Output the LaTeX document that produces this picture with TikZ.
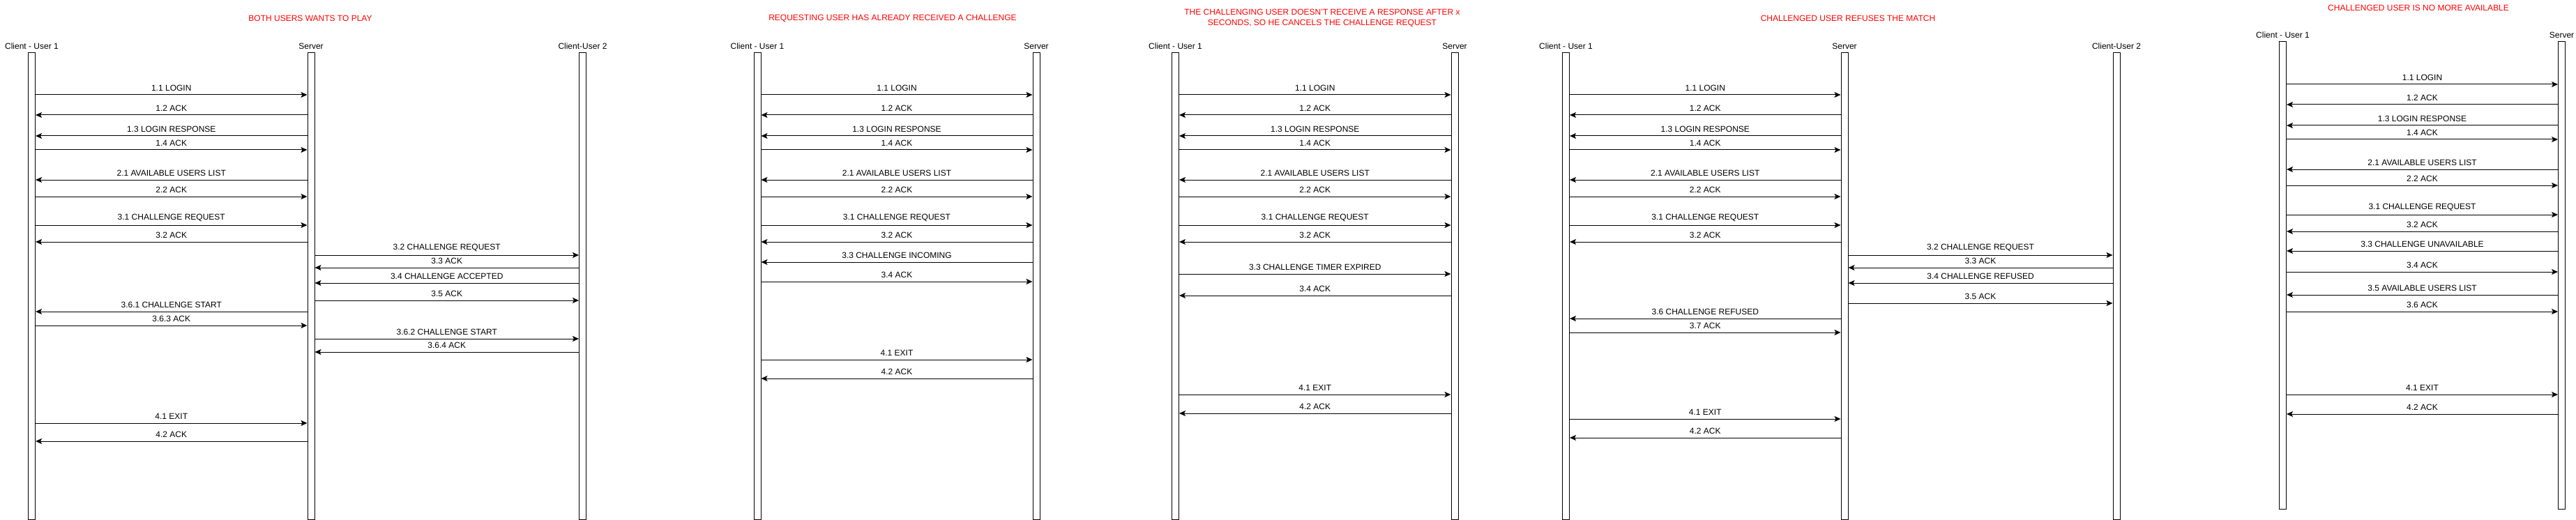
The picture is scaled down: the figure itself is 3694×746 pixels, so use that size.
\documentclass[tikz,border=0pt]{standalone}
\usepackage{fontspec}
\setmainfont{Liberation Sans}
\usetikzlibrary{positioning,arrows.meta}
\tikzset{
  life/.style={draw, fill=white, line width=1pt, minimum width=10pt, minimum height=669pt, inner sep=0pt},
  head/.style={inner sep=0pt, font=\fontsize{12}{15}\selectfont},
  msg/.style={line width=1pt, -{Stealth[length=9pt,width=8pt,inset=2pt]}},
  lbl/.style={midway, above=4pt, inner sep=1pt, font=\fontsize{12}{15}\selectfont},
  title/.style={text=red, align=center, inner sep=0pt, font=\fontsize{12}{15}\selectfont}
}

\begin{document}
\begin{tikzpicture}[x=1pt, y=-1pt]
\useasboundingbox (0,0) rectangle (3694,746);

% Both users want to play
    \node[title] (t1) at (445,26) {BOTH USERS WANTS TO PLAY};
    \node[life] (a1) at (45.5,410.5) {};
    \node[life] (a2) at (446,410.5) {};
    \node[life] (a3) at (835.5,410.5) {};
    \node[head, above=5pt of a1] (ha1) {Client - User 1};
    \node[head, above=5pt of a2] (ha2) {Server};
    \node[head, above=5pt of a3] (ha3) {Client-User 2};
    \draw[msg] (a1.east |- 0,136) -- (a2.west |- 0,136) node[lbl] {1.1 LOGIN};
    \draw[msg] (a2.west |- 0,165) -- (a1.east |- 0,165) node[lbl] {1.2 ACK};
    \draw[msg] (a2.west |- 0,195) -- (a1.east |- 0,195) node[lbl] {1.3 LOGIN RESPONSE};
    \draw[msg] (a1.east |- 0,215) -- (a2.west |- 0,215) node[lbl] {1.4 ACK};
    \draw[msg] (a2.west |- 0,258) -- (a1.east |- 0,258) node[lbl] {2.1 AVAILABLE USERS LIST};
    \draw[msg] (a1.east |- 0,282) -- (a2.west |- 0,282) node[lbl] {2.2 ACK};
    \draw[msg] (a1.east |- 0,323) -- (a2.west |- 0,323) node[lbl] {3.1 CHALLENGE REQUEST};
    \draw[msg] (a2.west |- 0,347) -- (a1.east |- 0,347) node[lbl] {3.2 ACK};
    \draw[msg] (a2.east |- 0,366) -- (a3.west |- 0,366) node[lbl] {3.2 CHALLENGE REQUEST};
    \draw[msg] (a3.west |- 0,384) -- (a2.east |- 0,384) node[lbl] {3.3 ACK};
    \draw[msg] (a3.west |- 0,406) -- (a2.east |- 0,406) node[lbl] {3.4 CHALLENGE ACCEPTED};
    \draw[msg] (a2.east |- 0,431) -- (a3.west |- 0,431) node[lbl] {3.5 ACK};
    \draw[msg] (a2.west |- 0,447) -- (a1.east |- 0,447) node[lbl] {3.6.1 CHALLENGE START};
    \draw[msg] (a1.east |- 0,467) -- (a2.west |- 0,467) node[lbl] {3.6.3 ACK};
    \draw[msg] (a2.east |- 0,486) -- (a3.west |- 0,486) node[lbl] {3.6.2 CHALLENGE START};
    \draw[msg] (a3.west |- 0,505) -- (a2.east |- 0,505) node[lbl] {3.6.4 ACK};
    \draw[msg] (a1.east |- 0,607) -- (a2.west |- 0,607) node[lbl] {4.1 EXIT};
    \draw[msg] (a2.west |- 0,633) -- (a1.east |- 0,633) node[lbl] {4.2 ACK};

% Requesting user has already received a challenge
    \node[title] (t2) at (1280,26) {REQUESTING USER HAS ALREADY RECEIVED A CHALLENGE};
    \node[life] (b1) at (1086,410.5) {};
    \node[life] (b2) at (1486,410.5) {};
    \node[head, above=5pt of b1] (hb1) {Client - User 1};
    \node[head, above=5pt of b2] (hb2) {Server};
    \draw[msg] (b1.east |- 0,136) -- (b2.west |- 0,136) node[lbl] {1.1 LOGIN};
    \draw[msg] (b2.west |- 0,165) -- (b1.east |- 0,165) node[lbl] {1.2 ACK};
    \draw[msg] (b2.west |- 0,195) -- (b1.east |- 0,195) node[lbl] {1.3 LOGIN RESPONSE};
    \draw[msg] (b1.east |- 0,215) -- (b2.west |- 0,215) node[lbl] {1.4 ACK};
    \draw[msg] (b2.west |- 0,258) -- (b1.east |- 0,258) node[lbl] {2.1 AVAILABLE USERS LIST};
    \draw[msg] (b1.east |- 0,282) -- (b2.west |- 0,282) node[lbl] {2.2 ACK};
    \draw[msg] (b1.east |- 0,323) -- (b2.west |- 0,323) node[lbl] {3.1 CHALLENGE REQUEST};
    \draw[msg] (b2.west |- 0,347) -- (b1.east |- 0,347) node[lbl] {3.2 ACK};
    \draw[msg] (b2.west |- 0,376) -- (b1.east |- 0,376) node[lbl] {3.3 CHALLENGE INCOMING};
    \draw[msg] (b1.east |- 0,404) -- (b2.west |- 0,404) node[lbl] {3.4 ACK};
    \draw[msg] (b1.east |- 0,516) -- (b2.west |- 0,516) node[lbl] {4.1 EXIT};
    \draw[msg] (b2.west |- 0,543) -- (b1.east |- 0,543) node[lbl] {4.2 ACK};

% Challenge timer expired
    \node[title] (t3) at (1896,25.5) {THE CHALLENGING USER DOESN'T RECEIVE A RESPONSE AFTER x\\SECONDS, SO HE CANCELS THE CHALLENGE REQUEST};
    \node[life] (c1) at (1685.5,410.5) {};
    \node[life] (c2) at (2086,410.5) {};
    \node[head, above=5pt of c1] (hc1) {Client - User 1};
    \node[head, above=5pt of c2] (hc2) {Server};
    \draw[msg] (c1.east |- 0,136) -- (c2.west |- 0,136) node[lbl] {1.1 LOGIN};
    \draw[msg] (c2.west |- 0,165) -- (c1.east |- 0,165) node[lbl] {1.2 ACK};
    \draw[msg] (c2.west |- 0,195) -- (c1.east |- 0,195) node[lbl] {1.3 LOGIN RESPONSE};
    \draw[msg] (c1.east |- 0,215) -- (c2.west |- 0,215) node[lbl] {1.4 ACK};
    \draw[msg] (c2.west |- 0,258) -- (c1.east |- 0,258) node[lbl] {2.1 AVAILABLE USERS LIST};
    \draw[msg] (c1.east |- 0,282) -- (c2.west |- 0,282) node[lbl] {2.2 ACK};
    \draw[msg] (c1.east |- 0,323) -- (c2.west |- 0,323) node[lbl] {3.1 CHALLENGE REQUEST};
    \draw[msg] (c2.west |- 0,347) -- (c1.east |- 0,347) node[lbl] {3.2 ACK};
    \draw[msg] (c1.east |- 0,393) -- (c2.west |- 0,393) node[lbl] {3.3 CHALLENGE TIMER EXPIRED};
    \draw[msg] (c2.west |- 0,424) -- (c1.east |- 0,424) node[lbl] {3.4 ACK};
    \draw[msg] (c1.east |- 0,566) -- (c2.west |- 0,566) node[lbl] {4.1 EXIT};
    \draw[msg] (c2.west |- 0,593) -- (c1.east |- 0,593) node[lbl] {4.2 ACK};

% Challenged user refuses the match
    \node[title] (t4) at (2650,26) {CHALLENGED USER REFUSES THE MATCH};
    \node[life] (d1) at (2245.5,410.5) {};
    \node[life] (d2) at (2645,410.5) {};
    \node[life] (d3) at (3035,410.5) {};
    \node[head, above=5pt of d1] (hd1) {Client - User 1};
    \node[head, above=5pt of d2] (hd2) {Server};
    \node[head, above=5pt of d3] (hd3) {Client-User 2};
    \draw[msg] (d1.east |- 0,136) -- (d2.west |- 0,136) node[lbl] {1.1 LOGIN};
    \draw[msg] (d2.west |- 0,165) -- (d1.east |- 0,165) node[lbl] {1.2 ACK};
    \draw[msg] (d2.west |- 0,195) -- (d1.east |- 0,195) node[lbl] {1.3 LOGIN RESPONSE};
    \draw[msg] (d1.east |- 0,215) -- (d2.west |- 0,215) node[lbl] {1.4 ACK};
    \draw[msg] (d2.west |- 0,258) -- (d1.east |- 0,258) node[lbl] {2.1 AVAILABLE USERS LIST};
    \draw[msg] (d1.east |- 0,282) -- (d2.west |- 0,282) node[lbl] {2.2 ACK};
    \draw[msg] (d1.east |- 0,323) -- (d2.west |- 0,323) node[lbl] {3.1 CHALLENGE REQUEST};
    \draw[msg] (d2.west |- 0,347) -- (d1.east |- 0,347) node[lbl] {3.2 ACK};
    \draw[msg] (d2.east |- 0,366) -- (d3.west |- 0,366) node[lbl] {3.2 CHALLENGE REQUEST};
    \draw[msg] (d3.west |- 0,384) -- (d2.east |- 0,384) node[lbl] {3.3 ACK};
    \draw[msg] (d3.west |- 0,406) -- (d2.east |- 0,406) node[lbl] {3.4 CHALLENGE REFUSED};
    \draw[msg] (d2.east |- 0,435) -- (d3.west |- 0,435) node[lbl] {3.5 ACK};
    \draw[msg] (d2.west |- 0,457) -- (d1.east |- 0,457) node[lbl] {3.6 CHALLENGE REFUSED};
    \draw[msg] (d1.east |- 0,477) -- (d2.west |- 0,477) node[lbl] {3.7 ACK};
    \draw[msg] (d1.east |- 0,601) -- (d2.west |- 0,601) node[lbl] {4.1 EXIT};
    \draw[msg] (d2.west |- 0,628) -- (d1.east |- 0,628) node[lbl] {4.2 ACK};

% Challenged user is no more available
    \node[title] (t5) at (3468,11) {CHALLENGED USER IS NO MORE AVAILABLE};
    \node[life, minimum height=670pt] (e1) at (3273.5,395) {};
    \node[life, minimum height=670pt] (e2) at (3673.5,395) {};
    \node[head, above=5pt of e1] (he1) {Client - User 1};
    \node[head, above=5pt of e2] (he2) {Server};
    \draw[msg] (e1.east |- 0,121) -- (e2.west |- 0,121) node[lbl] {1.1 LOGIN};
    \draw[msg] (e2.west |- 0,150) -- (e1.east |- 0,150) node[lbl] {1.2 ACK};
    \draw[msg] (e2.west |- 0,180) -- (e1.east |- 0,180) node[lbl] {1.3 LOGIN RESPONSE};
    \draw[msg] (e1.east |- 0,200) -- (e2.west |- 0,200) node[lbl] {1.4 ACK};
    \draw[msg] (e2.west |- 0,243) -- (e1.east |- 0,243) node[lbl] {2.1 AVAILABLE USERS LIST};
    \draw[msg] (e1.east |- 0,266) -- (e2.west |- 0,266) node[lbl] {2.2 ACK};
    \draw[msg] (e1.east |- 0,308) -- (e2.west |- 0,308) node[lbl] {3.1 CHALLENGE REQUEST};
    \draw[msg] (e2.west |- 0,332) -- (e1.east |- 0,332) node[lbl] {3.2 ACK};
    \draw[msg] (e2.west |- 0,360) -- (e1.east |- 0,360) node[lbl] {3.3 CHALLENGE UNAVAILABLE};
    \draw[msg] (e1.east |- 0,390) -- (e2.west |- 0,390) node[lbl] {3.4 ACK};
    \draw[msg] (e2.west |- 0,423) -- (e1.east |- 0,423) node[lbl] {3.5 AVAILABLE USERS LIST};
    \draw[msg] (e1.east |- 0,447) -- (e2.west |- 0,447) node[lbl] {3.6 ACK};
    \draw[msg] (e1.east |- 0,566) -- (e2.west |- 0,566) node[lbl] {4.1 EXIT};
    \draw[msg] (e2.west |- 0,594) -- (e1.east |- 0,594) node[lbl] {4.2 ACK};

\end{tikzpicture}
\end{document}
